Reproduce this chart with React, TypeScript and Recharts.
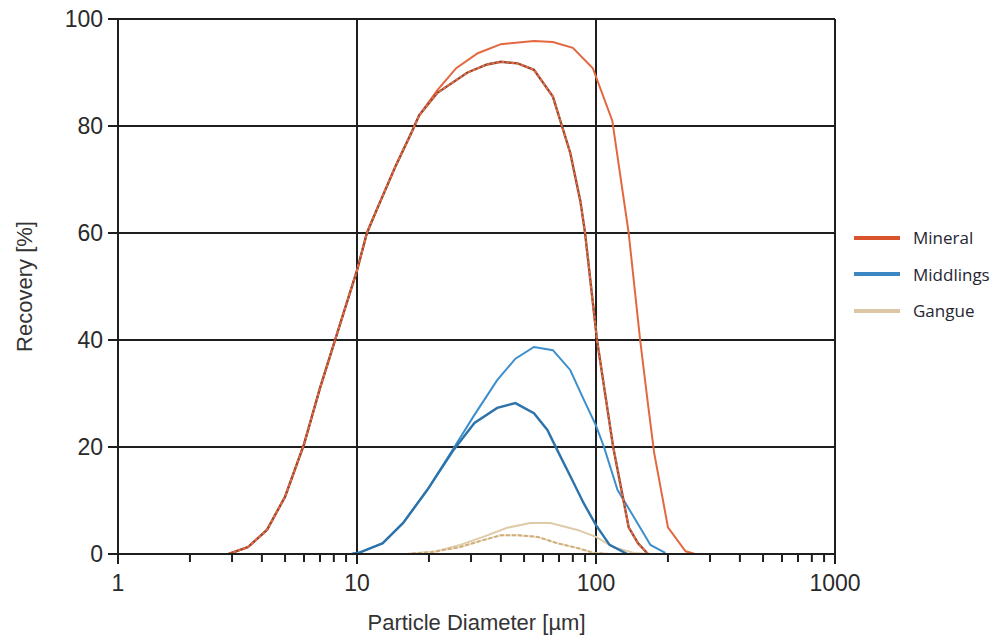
import {
  LineChart,
  Line,
  XAxis,
  YAxis,
  ReferenceLine,
  Legend,
} from "recharts";

// particle diameters (µm) and recovery (%)
const mineralOuterX = [2.9, 3.5, 4.2, 5, 6, 7, 8.5, 10, 11, 12, 14.5, 17, 18.2, 21.7, 26, 32, 40, 55, 66, 80, 97, 117, 137, 153, 165, 175, 200, 237, 260];
const mineralOuterY = [0, 1.3, 4.5, 10.7, 20.5, 31, 43, 53, 60, 64, 72.5, 79, 82, 86.7, 90.8, 93.6, 95.3, 95.9, 95.7, 94.6, 90.8, 81, 60, 40, 28, 19, 5, 0.5, 0];

const mineralInnerX = [2.9, 3.5, 4.2, 5, 6, 7, 8.5, 10, 11, 12, 14.5, 17, 18.2, 21.7, 29, 35, 40, 47, 55, 66, 78, 86, 90, 101, 110, 118, 137, 150, 165];
const mineralInnerY = [0, 1.3, 4.5, 10.7, 20.5, 31, 43, 53, 60, 64, 72.5, 79, 82, 86.2, 90, 91.5, 92, 91.7, 90.5, 85.5, 75, 66, 60, 40, 29, 20, 5, 2, 0];

const middlingsOuterX = [9.5, 10.3, 12.8, 15.6, 19.7, 25.4, 31, 38.6, 46, 55, 66, 78, 89, 100, 108, 123, 149, 169, 195];
const middlingsOuterY = [0, 0.3, 2, 5.8, 12, 19.8, 26, 32.5, 36.5, 38.7, 38.1, 34.4, 28.8, 24, 20, 12, 5.8, 1.7, 0.2];

const middlingsInnerX = [9.5, 10.3, 12.8, 15.6, 19.7, 25.4, 31, 38.6, 46, 55, 62.6, 69.6, 78.4, 88.8, 100, 114, 135];
const middlingsInnerY = [0, 0.3, 2, 5.8, 12, 19.5, 24.5, 27.3, 28.2, 26.3, 23.2, 19, 14.4, 9.5, 5.4, 1.7, 0];

const gangueOuterX = [9, 16.2, 20.9, 27, 33.7, 42.5, 53, 64.5, 83.7, 100, 118, 144, 170];
const gangueOuterY = [0, 0, 0.4, 1.7, 3.2, 4.9, 5.8, 5.8, 4.5, 3.2, 1.3, 0.2, 0];

const gangueInnerX = [9, 16.2, 20.9, 27, 33.7, 40, 47, 57, 69, 84, 98, 115];
const gangueInnerY = [0, 0, 0.4, 1.3, 2.6, 3.5, 3.5, 3.2, 2, 1.1, 0.2, 0];

const xTicks = [1, 2, 3, 4, 5, 6, 7, 8, 9, 10, 20, 30, 40, 50, 60, 70, 80, 90, 100, 200, 300, 400, 500, 600, 700, 800, 900, 1000];
const xGrid = [10, 100, 1000];
const yTicks = [0, 20, 40, 60, 80, 100];
const yGrid = [20, 40, 60, 80, 100];

const legendItems = [
  { name: "Mineral", color: "#d9532c" },
  { name: "Middlings", color: "#3a87c4" },
  { name: "Gangue", color: "#dcc6a6" },
];

const zip = (xs: number[], ys: number[]) => xs.map((x, i) => ({ x, y: ys[i] }));

const AXIS_FONT = "'Liberation Sans', Arial, sans-serif";
const INK = "#1e1e1e";

function XTick(props: any) {
  const { x, y, payload } = props;
  const v = payload.value;
  const major = [1, 10, 100, 1000].includes(v);
  return (
    <g>
      <line x1={x} y1={y} x2={x} y2={y + (major ? 10 : 8)} stroke={INK} strokeWidth={2} />
      {major && (
        <text x={x} y={y + 37} textAnchor="middle" fontSize={23} fontFamily={AXIS_FONT} fill="#2a2a2a">
          {v}
        </text>
      )}
    </g>
  );
}

function YTick(props: any) {
  const { x, y, payload } = props;
  return (
    <g>
      <line x1={x - 10} y1={y} x2={x} y2={y} stroke={INK} strokeWidth={2} />
      <text x={x - 15} y={y + 8} textAnchor="end" fontSize={23} fontFamily={AXIS_FONT} fill="#2a2a2a">
        {payload.value}
      </text>
    </g>
  );
}

function LegendBox() {
  return (
    <div style={{ fontFamily: "'Open Sans', sans-serif", fontSize: 17, color: "#262633" }}>
      {legendItems.map((item, i) => (
        <div key={item.name} style={{ display: "flex", alignItems: "center", height: i === 1 ? 38 : 35 }}>
          <span style={{ display: "inline-block", width: 46, height: 4, background: item.color, marginRight: 13 }} />
          <span>{item.name}</span>
        </div>
      ))}
    </div>
  );
}

export default function App() {
  return (
    <div style={{ margin: "-8px -8px 0 -8px", width: 1005, height: 637, background: "#fff" }}>
      <LineChart width={1005} height={637} margin={{ top: 19, right: 170, bottom: 5, left: 18 }}>
        <XAxis
          dataKey="x"
          type="number"
          scale="log"
          domain={[1, 1000]}
          allowDataOverflow
          ticks={xTicks}
          interval={0}
          tick={<XTick />}
          tickLine={false}
          tickSize={0}
          tickMargin={0}
          axisLine={{ stroke: INK, strokeWidth: 2 }}
          height={78}
          label={{
            value: "Particle Diameter [µm]",
            position: "insideBottom",
            offset: 2,
            fontSize: 22,
            fill: "#333",
            style: { fontFamily: AXIS_FONT },
          }}
        />
        <YAxis
          type="number"
          domain={[0, 100]}
          ticks={yTicks}
          interval={0}
          tick={<YTick />}
          tickLine={false}
          tickSize={0}
          tickMargin={0}
          axisLine={{ stroke: INK, strokeWidth: 2 }}
          width={100}
          label={{
            value: "Recovery [%]",
            angle: -90,
            position: "insideLeft",
            offset: 6,
            fontSize: 22,
            fill: "#333",
            style: { textAnchor: "middle", fontFamily: AXIS_FONT },
          }}
        />
        {xGrid.map((v) => (
          <ReferenceLine key={"x" + v} x={v} stroke={INK} strokeWidth={2} />
        ))}
        {yGrid.map((v) => (
          <ReferenceLine key={"y" + v} y={v} stroke={INK} strokeWidth={2} />
        ))}
        <Legend
          layout="horizontal"
          align="center"
          verticalAlign="middle"
          content={<LegendBox />}
          wrapperStyle={{ left: 854, top: 220, width: 150 }}
        />

        <Line data={zip(gangueOuterX, gangueOuterY)} dataKey="y" name="Gangue" stroke="#e0cba9" strokeWidth={2} dot={false} isAnimationActive={false} />
        <Line data={zip(gangueInnerX, gangueInnerY)} dataKey="y" name="Gangue 2" stroke="#ecdfca" strokeWidth={2} dot={false} isAnimationActive={false} legendType="none" />
        <Line data={zip(gangueInnerX, gangueInnerY)} dataKey="y" name="Gangue 2b" stroke="#cfae78" strokeWidth={2} strokeDasharray="4 2" dot={false} isAnimationActive={false} legendType="none" />

        <Line data={zip(middlingsOuterX, middlingsOuterY)} dataKey="y" name="Middlings" stroke="#3d8fcc" strokeWidth={2} dot={false} isAnimationActive={false} />
        <Line data={zip(middlingsInnerX, middlingsInnerY)} dataKey="y" name="Middlings 2" stroke="#2d73aa" strokeWidth={2.4} dot={false} isAnimationActive={false} legendType="none" />

        <Line data={zip(mineralOuterX, mineralOuterY)} dataKey="y" name="Mineral" stroke="#e4673f" strokeWidth={2} dot={false} isAnimationActive={false} />
        <Line data={zip(mineralInnerX, mineralInnerY)} dataKey="y" name="Mineral 2" stroke="#8a4a38" strokeWidth={2.4} dot={false} isAnimationActive={false} legendType="none" />
        <Line data={zip(mineralInnerX, mineralInnerY)} dataKey="y" name="Mineral 2b" stroke="#ec6a40" strokeWidth={2} strokeDasharray="3 2" dot={false} isAnimationActive={false} legendType="none" />
      </LineChart>
    </div>
  );
}
